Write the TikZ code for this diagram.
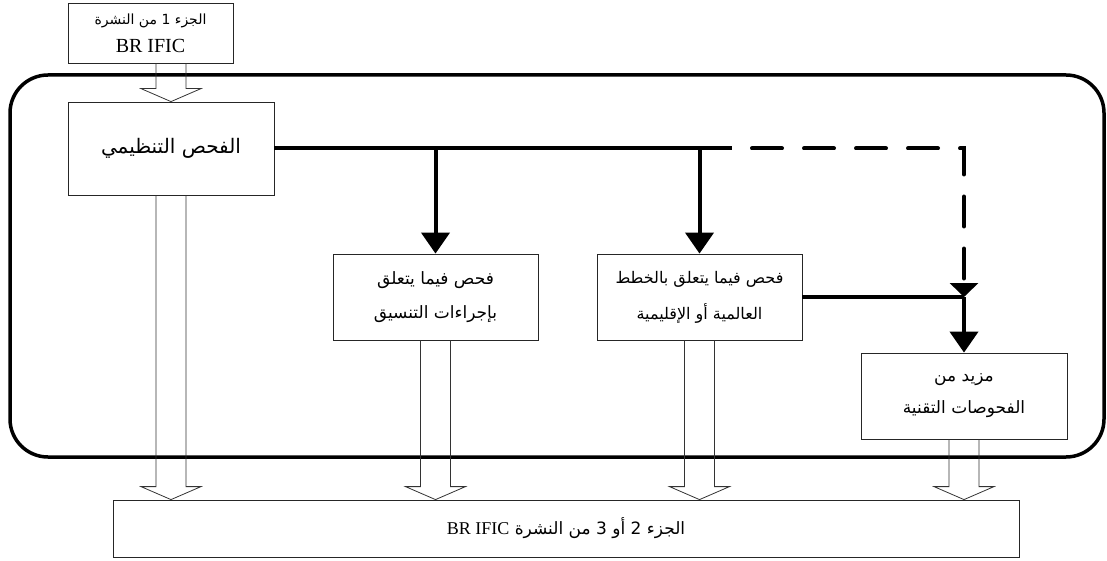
\documentclass[tikz,border=0pt]{standalone}
\usepackage{fontspec}
\setmainfont{Liberation Serif}
\newfontfamily\arabicfont[Script=Arabic]{DejaVu Sans}
\TeXXeTstate=1
\usetikzlibrary{arrows.meta,calc}
\newcommand{\ar}[1]{{\arabicfont\beginR #1\endR}}
\newcommand{\hollowarrow}[2]{%
  \draw[hollow] let \p1=(#1), \p2=(#2) in
    (\x1-15,\y1) -- (\x1-15,\y2+13) -- (\x1-30,\y2+13) -- (\x1,\y2)
    -- (\x1+30,\y2+13) -- (\x1+15,\y2+13) -- (\x1+15,\y1);}
\begin{document}
\begin{tikzpicture}[x=1pt,y=-1pt]
\tikzset{
  box/.style={draw=black!85, line width=0.8pt, align=center, inner sep=0pt,
    font=\fontsize{17}{34}\selectfont},
  framebox/.style={draw, line width=3.5pt, rounded corners=38pt, inner sep=0pt},
  hollow/.style={draw=black!80, line width=0.8pt},
  thk/.style={line width=4pt},
  flow/.style={line width=4pt, -{Triangle[length=21pt,width=28pt]}},
  dashflow/.style={line width=4pt, line cap=round, dash pattern=on 30pt off 22pt,
    -{Triangle[length=14pt,width=28pt]}},
}
\useasboundingbox (0,0) rectangle (1107,561);
\node[framebox, minimum width=1094, minimum height=382] (frame) at (557,266) {};
\node[box, minimum width=165, minimum height=60, font=\fontsize{14}{28}\selectfont] (top) at (150.5,33)
  {\ar{الجزء 1 من النشرة}\\{\fontsize{20}{28}\selectfont BR IFIC}};
\node[box, minimum width=206, minimum height=93, font=\fontsize{20}{34}\selectfont] (reg) at (171,148.5) {\ar{الفحص التنظيمي}};
\node[box, minimum width=205, minimum height=86] (coord) at (435.5,297)
  {\ar{فحص فيما يتعلق}\\\ar{بإجراءات التنسيق}};
\node[box, minimum width=205, minimum height=86, font=\fontsize{16}{36}\selectfont] (plans) at (699.5,297)
  {\ar{فحص فيما يتعلق بالخطط}\\\ar{العالمية أو الإقليمية}};
\node[box, minimum width=206, minimum height=86, font=\fontsize{17}{32}\selectfont] (more) at (964,396)
  {\ar{مزيد من}\\\ar{الفحوصات التقنية}};
\node[box, minimum width=906, minimum height=57] (out) at (566,528.5)
  {\ar{الجزء 2 أو 3 من النشرة \beginL{\rmfamily\fontsize{18}{20}\selectfont BR IFIC}\endL}};
\coordinate (dashstart) at (732,148.5);
\coordinate (corner) at (more.north |- reg.east);
\coordinate (merge) at (more.north |- plans.east);
\hollowarrow{top.south -| reg.north}{reg.north}
\hollowarrow{reg.south}{out.north}
\hollowarrow{coord.south}{out.north}
\hollowarrow{plans.south}{out.north}
\hollowarrow{more.south}{out.north}
\draw[thk] (reg.east) -- (dashstart);
\draw[flow] (reg.east -| coord.north) -- (coord.north);
\draw[flow] (reg.east -| plans.north) -- (plans.north);
\draw[dashflow] ($(dashstart)+(20,0)$) -- (corner) -- (merge);
\draw[thk] (plans.east) -- (merge);
\draw[flow] (merge) -- (more.north);
\end{tikzpicture}
\end{document}
